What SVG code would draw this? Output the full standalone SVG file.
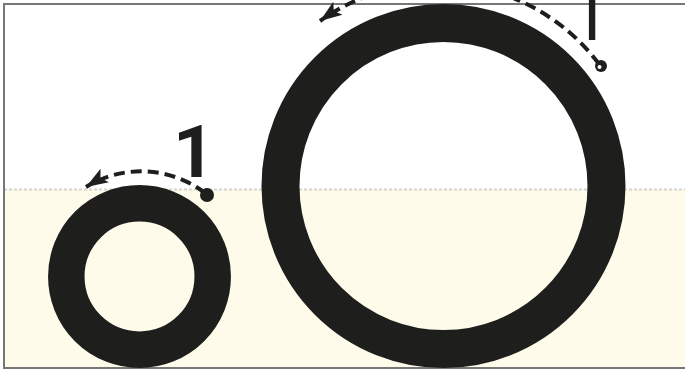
<svg xmlns="http://www.w3.org/2000/svg" width="685" height="377" viewBox="0 0 685 377">
<defs>
<style>
.ring{fill:none;stroke:#1e1e1c}
.conn{fill:none;stroke:#1e1e1c;stroke-width:4;stroke-dasharray:11 6}
.lbl{font-family:Roboto,"Liberation Sans",Arial,sans-serif;font-weight:700;font-size:73px;fill:#1e1e1c}
.lbl-big{font-weight:300;font-size:110px}
</style>
<marker id="ah" markerUnits="userSpaceOnUse" markerWidth="24" markerHeight="20" viewBox="0 0 24 20" refX="22" refY="10" orient="auto">
<path d="M0,2 L22,10 L0,18 L5,10 Z" fill="#1e1e1c"/>
</marker>
</defs>
<rect x="0" y="0" width="685" height="377" fill="#ffffff"/>
<rect x="4" y="189" width="681" height="179" fill="#fefbea"/>
<line x1="4" y1="189.5" x2="685" y2="189.5" stroke="#d4d4d0" stroke-width="2" stroke-dasharray="3 2"/>
<path d="M685,4 H4 V368 H685" fill="none" stroke="#777777" stroke-width="2"/>
<g id="ring-small">
<circle class="ring" cx="139.5" cy="276.5" r="73.2" stroke-width="36.5"/>
</g>
<g id="ring-large">
<circle class="ring" cx="443.5" cy="186" r="163" stroke-width="38"/>
</g>
<g id="connectors">
<path class="conn" d="M205,193 A105,105 0 0 0 86,187" marker-end="url(#ah)"/>
<circle cx="207" cy="195" r="7" fill="#1e1e1c"/>
<path class="conn" d="M599,64 A202,202 0 0 0 320,21" marker-end="url(#ah)"/>
<circle cx="601" cy="66" r="6" fill="#1e1e1c"/>
<circle cx="599.5" cy="67" r="2" fill="#ffffff"/>
</g>
<g id="label-small"><text class="lbl" x="173" y="177">1</text></g>
<g id="label-large"><text class="lbl lbl-big" x="558" y="40">1</text></g>
</svg>
